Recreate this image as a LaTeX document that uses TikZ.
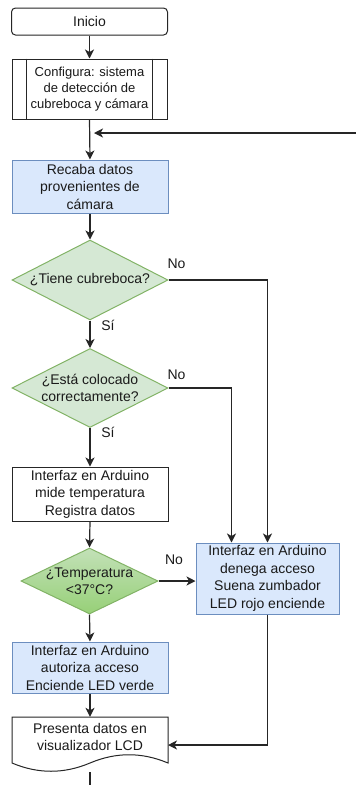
\documentclass[tikz,border=0pt]{standalone}
\usepackage{fontspec}
\setmainfont{Liberation Sans}
\usetikzlibrary{arrows.meta,shapes.geometric,calc}
\definecolor{bluefill}{HTML}{DAE8FC}
\definecolor{bluestroke}{HTML}{6C8EBF}
\definecolor{greenfill}{HTML}{D5E8D4}
\definecolor{greenstroke}{HTML}{82B366}
\definecolor{greendark}{HTML}{97D077}
\definecolor{linecol}{HTML}{262626}
\definecolor{txtcol}{HTML}{1A1A1A}
\tikzset{
  base/.style={inner sep=0pt, align=center, text=txtcol, font=\fontsize{14}{17.5}\selectfont},
  whitebox/.style={base, draw=linecol, line width=1pt, fill=white, minimum width=156pt},
  bluebox/.style={base, draw=bluestroke, line width=1pt, fill=bluefill},
  dia/.style={shape=diamond, draw=greenstroke, line width=1pt, fill=greenfill, inner sep=0pt},
  lbl/.style={base},
  conn/.style={draw=linecol, line width=1.2pt},
  arr/.style={conn, -{Stealth[length=9pt,width=9pt,inset=2.5pt]}},
}
\begin{document}
\begin{tikzpicture}[x=1pt,y=-1pt]
\useasboundingbox (0,0) rectangle (356,785);
% Inicio
\node[whitebox, rounded corners=4pt, minimum height=27pt] (ini) at (89.5,21.5) {Inicio};
% Configura
\node[whitebox, minimum width=155pt, minimum height=60pt, font=\fontsize{13}{16.3}\selectfont] (conf) at (89.5,89) {Configura: sistema\\de detección de\\cubreboca y cámara};
\draw[linecol, line width=1pt] ([xshift=15pt]conf.north west) -- ([xshift=15pt]conf.south west);
\draw[linecol, line width=1pt] ([xshift=-15pt]conf.north east) -- ([xshift=-15pt]conf.south east);
% Recaba
\node[bluebox, minimum width=156pt, minimum height=53pt] (rec) at (90,186.5) {Recaba datos\\provenientes de\\cámara};
% Diamond 1
\node[dia, minimum width=156pt, minimum height=80pt] (d1) at (90,280) {};
\node[lbl] (d1t) at (d1.center) {¿Tiene cubreboca?};
% Diamond 2
\node[dia, minimum width=156pt, minimum height=79pt] (d2) at (90,388) {};
\node[lbl] (d2t) at (d2.center) {¿Está colocado\\correctamente?};
% Mide
\node[whitebox, minimum height=54pt] (mide) at (90,494) {Interfaz en Arduino\\mide temperatura\\Registra datos};
% Diamond 3
\node[dia, top color=greenfill!70!greendark, bottom color=greendark, minimum width=137pt, minimum height=66pt] (d3) at (89.5,581) {};
\node[lbl] (d3t) at (d3.center) {¿Temperatura\\<37°C?};
% Deny box
\node[bluebox, minimum width=143pt, minimum height=71pt] (deny) at (267.5,578.5) {Interfaz en Arduino\\denega acceso\\Suena zumbador\\LED rojo enciende};
% Autoriza
\node[bluebox, minimum width=156pt, minimum height=51pt] (aut) at (90,667.5) {Interfaz en Arduino\\autoriza acceso\\Enciende LED verde};
% Document
\draw[linecol, line width=1pt, fill=white] (12,717) -- (168,717) -- (168,763)
  .. controls (142,752) and (116,752) .. (90,763)
  .. controls (64,774) and (38,774) .. (12,763) -- cycle;
\node[lbl, minimum width=156pt, minimum height=40pt] (doc) at (90,737) {Presenta datos en\\visualizador LCD};
\coordinate (docin) at (168,745);
\coordinate (docbot) at (90,772);
\coordinate (endb) at (90,785);
% feedback
\coordinate (fbR) at (356,133);
\coordinate (fbL) at (94,133);
% connectors
\draw[arr] (ini.south) -- (conf.north);
\draw[arr] (conf.south) -- (rec.north);
\draw[arr] (fbR) -- (fbL);
\draw[arr] (rec.south) -- (d1.north);
\draw[arr] (d1.south) -- (d2.north);
\draw[arr] (d2.south) -- (mide.north);
\draw[arr] (mide.south) -- (d3.north);
\draw[arr] (d3.south) -- (aut.north);
\draw[arr] (aut.south) -- (doc.north);
\draw[arr] (d1.east) -| (deny.north);
\draw[arr] (d2.east) -| ([xshift=36pt]deny.north west);
\draw[arr] (d3.east) -- (d3.east -| deny.west);
\draw[arr] (deny.south) |- (docin);
\draw[conn] (docbot) -- (endb);
% labels
\node[lbl] (no1) at (176.5,264) {No};
\node[lbl] (si1) at (108,325) {Sí};
\node[lbl] (no2) at (176.5,375) {No};
\node[lbl] (si2) at (108,432) {Sí};
\node[lbl] (no3) at (174,560) {No};
\end{tikzpicture}
\end{document}
